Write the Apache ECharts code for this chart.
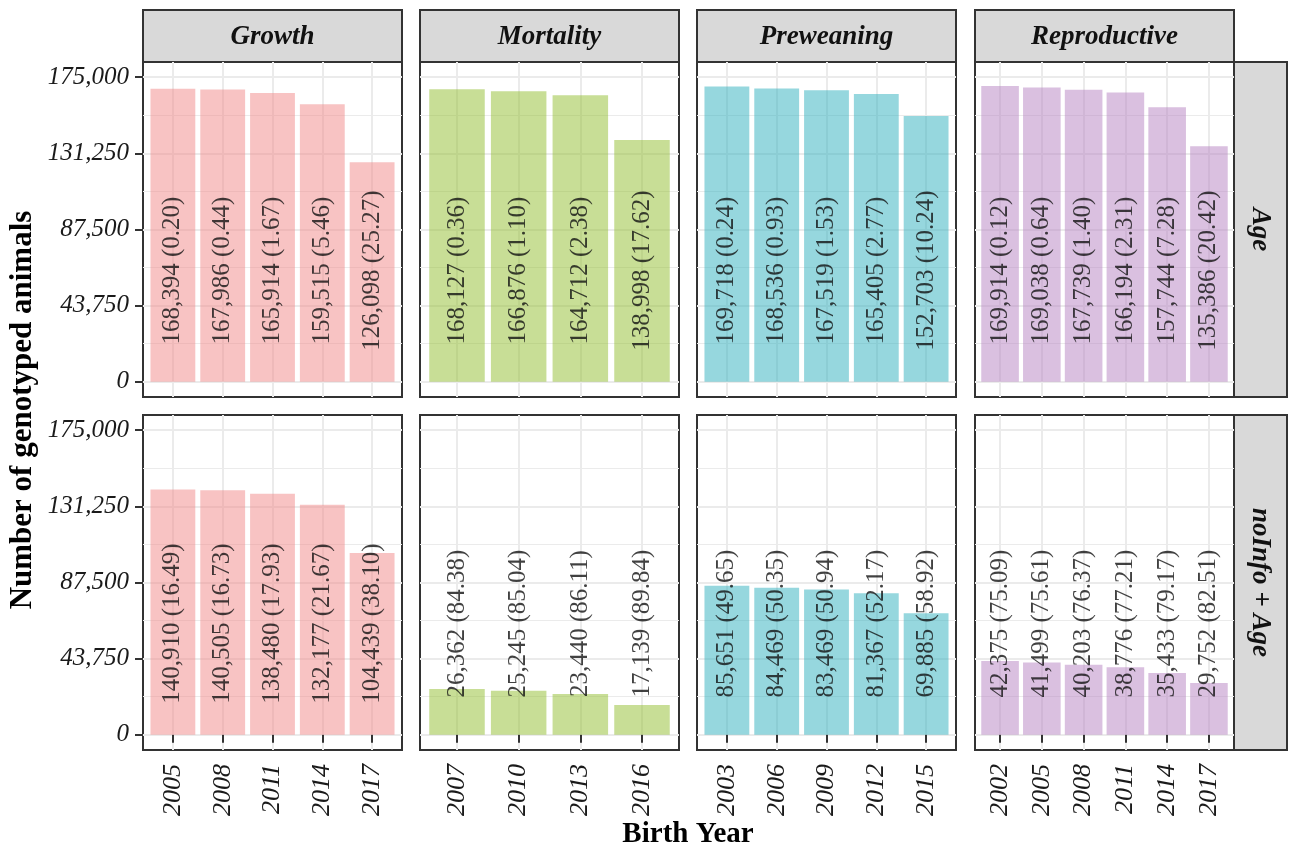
<!DOCTYPE html>
<html>
<head>
<meta charset="utf-8">
<script src="https://cdn.jsdelivr.net/npm/echarts@6/dist/echarts.min.js"></script>
<style>
  html, body { margin: 0; padding: 0; background: #fff; }
  #chart { width: 1290px; height: 850px; }
</style>
</head>
<body>
<div id="chart"></div>
<script>
// facets
const traits = ['Growth', 'Mortality', 'Preweaning', 'Reproductive'];
const models = ['Age', 'noInfo + Age'];

// y axis ticks
const yTicks = [0, 43750, 87500, 131250, 175000];
const yMinorTicks = [21875, 65625, 109375, 153125];

// Growth
const growthYears = [2005, 2008, 2011, 2014, 2017];
const growthAge = [168394, 167986, 165914, 159515, 126098];
const growthAgePct = [0.20, 0.44, 1.67, 5.46, 25.27];
const growthNoInfo = [140910, 140505, 138480, 132177, 104439];
const growthNoInfoPct = [16.49, 16.73, 17.93, 21.67, 38.10];

// Mortality
const mortalityYears = [2007, 2010, 2013, 2016];
const mortalityAge = [168127, 166876, 164712, 138998];
const mortalityAgePct = [0.36, 1.10, 2.38, 17.62];
const mortalityNoInfo = [26362, 25245, 23440, 17139];
const mortalityNoInfoPct = [84.38, 85.04, 86.11, 89.84];

// Preweaning
const preweaningYears = [2003, 2006, 2009, 2012, 2015];
const preweaningAge = [169718, 168536, 167519, 165405, 152703];
const preweaningAgePct = [0.24, 0.93, 1.53, 2.77, 10.24];
const preweaningNoInfo = [85651, 84469, 83469, 81367, 69885];
const preweaningNoInfoPct = [49.65, 50.35, 50.94, 52.17, 58.92];

// Reproductive
const reproductiveYears = [2002, 2005, 2008, 2011, 2014, 2017];
const reproductiveAge = [169914, 169038, 167739, 166194, 157744, 135386];
const reproductiveAgePct = [0.12, 0.64, 1.40, 2.31, 7.28, 20.42];
const reproductiveNoInfo = [42375, 41499, 40203, 38776, 35433, 29752];
const reproductiveNoInfoPct = [75.09, 75.61, 76.37, 77.21, 79.17, 82.51];

const panels = [
  { years: growthYears, rows: [[growthAge, growthAgePct], [growthNoInfo, growthNoInfoPct]], color: 'rgba(242,136,136,0.5)' },
  { years: mortalityYears, rows: [[mortalityAge, mortalityAgePct], [mortalityNoInfo, mortalityNoInfoPct]], color: 'rgba(146,190,46,0.5)' },
  { years: preweaningYears, rows: [[preweaningAge, preweaningAgePct], [preweaningNoInfo, preweaningNoInfoPct]], color: 'rgba(46,176,190,0.5)' },
  { years: reproductiveYears, rows: [[reproductiveAge, reproductiveAgePct], [reproductiveNoInfo, reproductiveNoInfoPct]], color: 'rgba(182,130,194,0.5)' }
];

// layout
const panelLeft = [143, 420, 697, 975];
const panelWidth = 259;
const panelTop = [62, 415];
const panelHeight = 335;
const yMin = -8750, yMax = 183750;
const labelY = 63900;
const serif = '"Liberation Serif", "DejaVu Serif", serif';

const fmt = v => String(v).replace(/\B(?=(\d{3})+(?!\d))/g, ',');

const chart = echarts.init(document.getElementById('chart'));

const grid = [], xAxis = [], yAxis = [], series = [];

models.forEach((model, r) => {
  panels.forEach((p, c) => {
    const g = grid.length;
    const n = p.years.length;
    const pos = p.years.map((y, i) => i + 1);
    const [vals, pcts] = p.rows[r];
    const texts = vals.map((v, i) => fmt(v) + ' (' + pcts[i].toFixed(2) + ')');

    grid.push({
      left: panelLeft[c], top: panelTop[r], width: panelWidth, height: panelHeight,
      show: true, borderColor: '#333', borderWidth: 2, backgroundColor: '#fff', containLabel: false
    });

    xAxis.push({
      type: 'value', gridIndex: g, min: 0.4, max: n + 0.6,
      axisLine: { show: false },
      axisTick: { show: r === 1, customValues: pos, length: 8, lineStyle: { color: '#333', width: 2 } },
      axisLabel: {
        show: r === 1, customValues: pos, rotate: 90, margin: 14,
        formatter: v => String(p.years[Math.round(v) - 1]),
        fontFamily: serif, fontStyle: 'italic', fontSize: 26, color: '#1a1a1a'
      },
      splitLine: { show: true, lineStyle: { color: '#ebebeb', width: 2 } }
    });

    const yi = yAxis.length;
    yAxis.push({
      type: 'value', gridIndex: g, min: yMin, max: yMax,
      axisLine: { show: false },
      axisTick: { show: c === 0, customValues: yTicks, length: 8, lineStyle: { color: '#333', width: 2 } },
      axisLabel: {
        show: c === 0, customValues: yTicks, margin: 14, formatter: v => fmt(v),
        fontFamily: serif, fontStyle: 'italic', fontSize: 25, color: '#1a1a1a'
      },
      splitLine: { show: true, lineStyle: { color: '#ebebeb', width: 2 } }
    });
    yAxis.push({
      type: 'value', gridIndex: g, min: yMin, max: yMax, position: 'left',
      axisLine: { show: false },
      axisTick: { show: false, customValues: yMinorTicks },
      axisLabel: { show: false, customValues: yMinorTicks },
      splitLine: { show: true, lineStyle: { color: '#ebebeb', width: 1 } }
    });

    series.push({
      type: 'bar', xAxisIndex: g, yAxisIndex: yi,
      data: vals.map((v, i) => [pos[i], v]),
      barWidth: 0.9 * panelWidth / (n + 0.2),
      itemStyle: { color: p.color },
      silent: true
    });
    series.push({
      type: 'scatter', xAxisIndex: g, yAxisIndex: yi,
      data: vals.map((v, i) => [pos[i], labelY]),
      symbolSize: 1, itemStyle: { color: 'rgba(0,0,0,0)' },
      silent: true, z: 5,
      label: {
        show: true, position: 'inside', rotate: 90,
        formatter: q => texts[q.dataIndex],
        fontFamily: serif, fontSize: 25, color: '#111'
      }
    });
  });
});

const graphic = [];
traits.forEach((t, c) => {
  graphic.push({ type: 'rect', shape: { x: panelLeft[c], y: 10, width: panelWidth, height: 52 },
    style: { fill: '#d9d9d9', stroke: '#333', lineWidth: 2 } });
  graphic.push({ type: 'text', x: panelLeft[c] + panelWidth / 2, y: 37,
    style: { text: t, fontFamily: serif, fontStyle: 'italic', fontWeight: 'bold', fontSize: 27,
      fill: '#111', align: 'center', verticalAlign: 'middle' } });
});
models.forEach((m, r) => {
  graphic.push({ type: 'rect', shape: { x: 1234, y: panelTop[r], width: 53, height: panelHeight },
    style: { fill: '#d9d9d9', stroke: '#333', lineWidth: 2 } });
  graphic.push({ type: 'text', x: 1260, y: panelTop[r] + panelHeight / 2, rotation: -Math.PI / 2,
    style: { text: m, fontFamily: serif, fontStyle: 'italic', fontWeight: 'bold', fontSize: 27,
      fill: '#111', align: 'center', verticalAlign: 'middle' } });
});
graphic.push({ type: 'text', x: 23, y: 410, rotation: Math.PI / 2,
  style: { text: 'Number of genotyped animals', fontFamily: serif, fontWeight: 'bold', fontSize: 31,
    fill: '#000', align: 'center', verticalAlign: 'middle' } });
graphic.push({ type: 'text', x: 688, y: 835,
  style: { text: 'Birth Year', fontFamily: serif, fontWeight: 'bold', fontSize: 29,
    fill: '#000', align: 'center', verticalAlign: 'middle' } });

chart.setOption({
  animation: false,
  backgroundColor: '#fff',
  grid, xAxis, yAxis, series, graphic
});
</script>
</body>
</html>
